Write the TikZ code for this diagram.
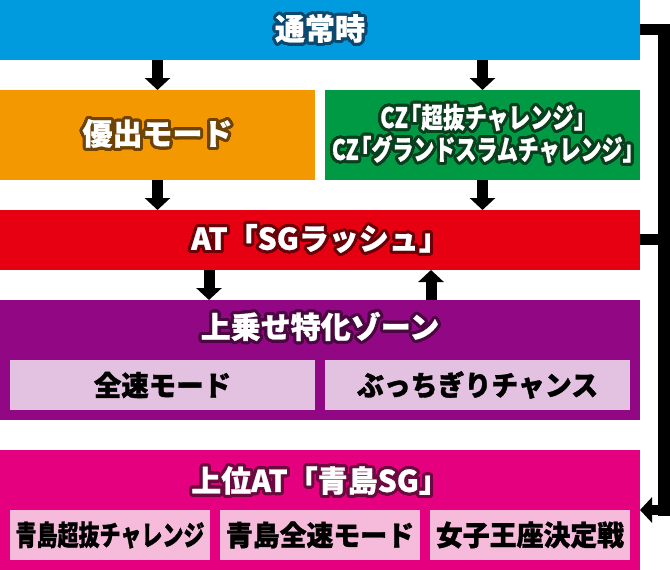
\documentclass[tikz,border=0pt]{standalone}
\usepackage{fontspec}
\setmainfont{Noto Sans CJK JP}
\usepackage{contour}
\contournumber{48}
\contourlength{3pt}
\usetikzlibrary{arrows.meta}
\definecolor{cblue}{HTML}{009BDF}
\definecolor{corange}{HTML}{F39800}
\definecolor{cgreen}{HTML}{009944}
\definecolor{cred}{HTML}{E60012}
\definecolor{cpurple}{HTML}{920783}
\definecolor{cmagenta}{HTML}{E4007F}
\definecolor{lpurple}{HTML}{E3C1E0}
\definecolor{lpink}{HTML}{F6BBDB}
\definecolor{dblue}{HTML}{0B4A6E}
\definecolor{dorange}{HTML}{6E4306}
\definecolor{dgreen}{HTML}{0A3F1E}
\definecolor{dred}{HTML}{6A0008}
\definecolor{dpurple}{HTML}{4A0841}
\definecolor{dmagenta}{HTML}{6A0A3E}
\tikzset{
  box/.style={rectangle, draw=none, inner sep=0pt, outer sep=0pt},
  ttl/.style={inner sep=0pt, text=white, font=\bfseries\addfontfeature{FakeBold=0.8}\fontsize{30}{33}\selectfont, align=center},
  sub/.style={box, text=black, font=\bfseries\addfontfeature{FakeBold=1.2}\fontsize{28}{30}\selectfont},
  arr/.style={line width=11pt, -{Triangle[width=25pt,length=12pt]}},
  conn/.style={line width=11pt},
}
\begin{document}
\begin{tikzpicture}[x=1pt,y=-1pt]
\useasboundingbox (0,0) rectangle (670,570);
% boxes
\node[box, fill=cblue, minimum width=640pt, minimum height=60pt] (normal) at (320,30) {};
\node[box, fill=corange, minimum width=315pt, minimum height=90pt] (yushutsu) at (157.5,135) {};
\node[box, fill=cgreen, minimum width=315pt, minimum height=90pt] (cz) at (482.5,135) {};
\node[box, fill=cred, minimum width=640pt, minimum height=60pt] (at) at (320,240) {};
\node[box, fill=cpurple, minimum width=640pt, minimum height=120pt] (zone) at (320,360) {};
\node[box, fill=cmagenta, minimum width=640pt, minimum height=120pt] (upper) at (320,510) {};
% sub boxes
\node[sub, fill=lpurple, minimum width=305pt, minimum height=50pt] (zensoku) at (162.5,385) {\scalebox{0.98}[1]{全速モード}};
\node[sub, fill=lpurple, minimum width=305pt, minimum height=50pt] (bucchi) at (477.5,385) {\scalebox{0.96}[1]{ぶっちぎりチャンス}};
\node[sub, fill=lpink, minimum width=200pt, minimum height=50pt] (s1) at (110,535) {\scalebox{0.75}[1]{青島超抜チャレンジ}};
\node[sub, fill=lpink, minimum width=200pt, minimum height=50pt] (s2) at (320,535) {\scalebox{0.96}[1]{青島全速モード}};
\node[sub, fill=lpink, minimum width=200pt, minimum height=50pt] (s3) at (530,535) {\scalebox{0.96}[1]{女子王座決定戦}};
% titles
\node[ttl] (tnormal) at (normal.center) {\contour{dblue}{通常時}};
\node[ttl] (tyu) at (yushutsu.center) {\contour{dorange}{優出モード}};
\node[ttl, font=\bfseries\addfontfeature{FakeBold=0.8}\fontsize{28}{32}\selectfont] (tcz) at (cz.center) {\contour{dgreen}{\scalebox{0.78}[1]{CZ\kern3pt｢超抜チャレンジ｣}}\\\contour{dgreen}{\scalebox{0.75}[1]{CZ\kern3pt｢グランドスラムチャレンジ｣}}};
\node[ttl] (tat) at (at.center) {\contour{dred}{AT「SGラッシュ」}};
\node[ttl] (tzone) at (320,328) {\contour{dpurple}{上乗せ特化ゾーン}};
\node[ttl] (tupper) at (320,482) {\contour{dmagenta}{上位AT「青島SG」}};
% arrows
\draw[arr] (normal.south -| yushutsu.north) -- (yushutsu.north);
\draw[arr] (normal.south -| cz.north) -- (cz.north);
\draw[arr] (yushutsu.south) -- (yushutsu.south |- at.north);
\draw[arr] (cz.south) -- (cz.south |- at.north);
\coordinate (d1) at (209,270);
\coordinate (u1) at (431,300);
\draw[arr] (d1) -- (d1 |- zone.north);
\draw[arr] (u1) -- (u1 |- at.south);
% right connector
\coordinate (r1) at (664,29.5);
\coordinate (r2) at (664,239.5);
\coordinate (r3) at (664,510);
\draw[conn] (normal.east |- r1) -- (670,29.5);
\draw[line width=12pt] (664,24) -- (664,516);
\draw[conn] (at.east |- r2) -- (r2);
\draw[line width=10pt, -{Triangle[width=25pt,length=12pt]}] (670,510) -- (upper.east |- r3);
\end{tikzpicture}
\end{document}
